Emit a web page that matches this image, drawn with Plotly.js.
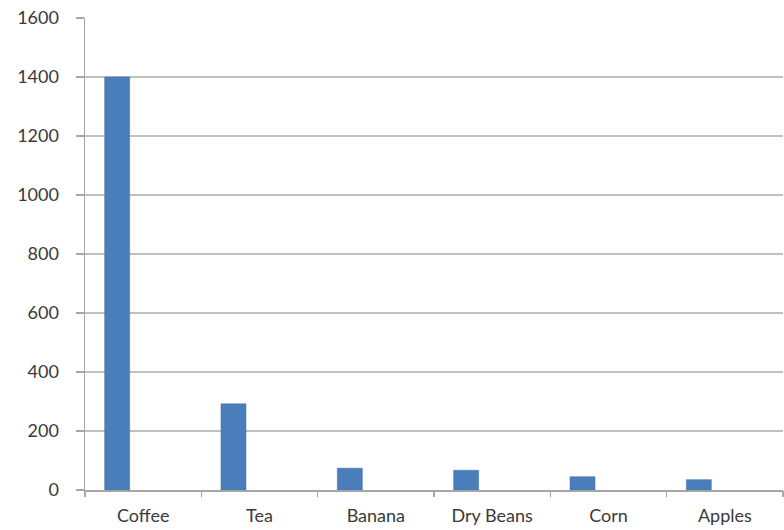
<!DOCTYPE html>
<html>
<head>
<meta charset="utf-8">
<script src="https://cdn.plot.ly/plotly-3.0.1.min.js"></script>
<style>
html,body{margin:0;padding:0;background:#fff;}
#chart{width:784px;height:530px;}
</style>
</head>
<body>
<div id="chart"></div>
<script>
var categories = ["Coffee", "Tea", "Banana", "Dry Beans", "Corn", "Apples"];
var values = [1400, 292, 74, 67, 45, 35];
var yTicks = [0, 200, 400, 600, 800, 1000, 1200, 1400, 1600];

var trace = {
  type: "bar",
  x: categories,
  y: values,
  width: 0.215,
  offset: -0.331,
  marker: {color: "#4a7ebb", line: {color: "#3f6fa8", width: 0.5}},
  hoverinfo: "x+y"
};

var labelFont = {family: "Lato, 'Open Sans', sans-serif", size: 18, color: "#3a3a3a"};

var layout = {
  width: 784,
  height: 530,
  margin: {l: 85, r: 1, t: 18, b: 40, pad: 0},
  paper_bgcolor: "#ffffff",
  plot_bgcolor: "#ffffff",
  showlegend: false,
  font: labelFont,
  xaxis: {
    type: "category",
    range: [-0.5, 5.5],
    tickmode: "array",
    tickvals: categories,
    ticktext: categories,
    showgrid: false,
    showline: true,
    linecolor: "#a6a6a6",
    linewidth: 1.5,
    ticks: "",
    ticklabelstandoff: 9,
    zeroline: false,
    tickfont: labelFont,
    fixedrange: true
  },
  xaxis2: {
    overlaying: "x",
    range: [0, 6],
    tickmode: "array",
    tickvals: [0, 1, 2, 3, 4, 5, 6],
    ticks: "outside",
    ticklen: 6,
    tickwidth: 1.5,
    tickcolor: "#a6a6a6",
    showticklabels: false,
    showgrid: false,
    showline: false,
    zeroline: false,
    anchor: "y",
    fixedrange: true
  },
  yaxis: {
    range: [0, 1600],
    tickmode: "array",
    tickvals: yTicks,
    ticktext: yTicks.map(String),
    showgrid: true,
    gridcolor: "#c0c0c0",
    gridwidth: 1.5,
    showline: true,
    linecolor: "#a6a6a6",
    linewidth: 1.5,
    ticks: "outside",
    ticklen: 8,
    tickwidth: 1.5,
    tickcolor: "#a6a6a6",
    ticklabelstandoff: 13,
    zeroline: false,
    tickfont: labelFont,
    fixedrange: true
  },
  bargap: 0
};

var tickTrace = {type: "scatter", x: [0, 6], y: [0, 0], xaxis: "x2", yaxis: "y", mode: "lines", line: {color: "rgba(0,0,0,0)"}, hoverinfo: "skip"};

Plotly.newPlot("chart", [trace, tickTrace], layout, {displayModeBar: false, staticPlot: true});
</script>
</body>
</html>
